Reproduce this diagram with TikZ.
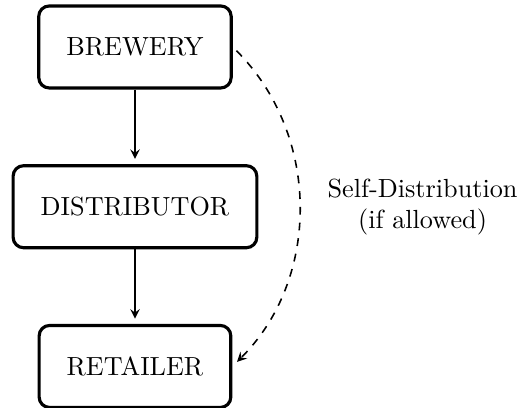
\documentclass[tikz,border=0pt]{standalone}
\usetikzlibrary{positioning}
\tikzstyle{entity} = [rectangle, draw, very thick, rounded corners,
                inner xsep=0.37cm, minimum height=1.1cm]
\tikzstyle{line} = [draw, semithick, -stealth, shorten >=2pt]
\tikzstyle{bypass} = [draw, semithick, dashed, -stealth,
                        shorten <=2pt, shorten >=2.5pt]

\begin{document}
\begin{tikzpicture}
        \useasboundingbox (-1.81,0.63) rectangle (5.19,-4.83);
        \node[entity](brewery){BREWERY};
        \node[entity, below=1.0cm of brewery](distributor){DISTRIBUTOR};
        \node[entity, below=1.0cm of distributor](retailer){RETAILER};
        \path[line] (brewery) -- (distributor);
        \path[line] (distributor) -- (retailer);
        \path[bypass] (brewery.east) to[bend left=45] node[midway, right=0.26cm, align=center](selfdist){Self-Distribution\\(if allowed)} (retailer.east);
\end{tikzpicture}
\end{document}
